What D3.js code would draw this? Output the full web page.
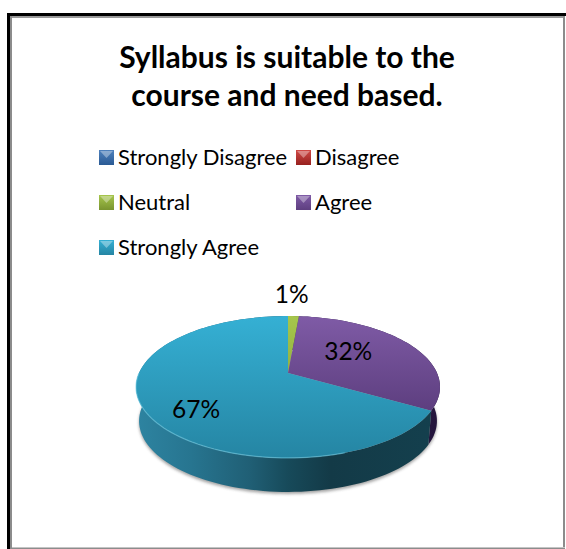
<!DOCTYPE html>
<html>
<head>
<meta charset="utf-8">
<script src="https://cdn.jsdelivr.net/npm/d3@7"></script>
<style>
  body { margin: 0; background: #fff; }
  text { font-family: Lato, "Open Sans", sans-serif; fill: #000; }
</style>
</head>
<body>
<div id="chart"></div>
<script>
const titleLines = ["Syllabus is suitable to the", "course and need based."];
const categories = ["Strongly Disagree", "Disagree", "Neutral", "Agree", "Strongly Agree"];
const values = [0, 0, 1.4, 31.9, 66.7];
const labels = ["", "", "1%", "32%", "67%"];

const width = 566, height = 549;
const apex = {x: 288, y: 373};
// projection of the pie disc, tilted away from the viewer
const tilt = {a: 149, b: 68.2, k: 0.197}, depth = 34;

const colors = {
  "Strongly Disagree": ["#4f81bd", "#2a5a94"],
  "Disagree": ["#d04a46", "#97211f"],
  "Neutral": ["#a6c64c", "#79942f"],
  "Agree": ["#7f5ba6", "#5e3f80"],
  "Strongly Agree": ["#35b0d4", "#2585a3"]
};
const sideColors = {
  "Neutral": [[0, "#6f8a2c"], [1, "#3f5018"]],
  "Agree": [[0, "#3a2460"], [1, "#24153c"]],
  "Strongly Agree": [[0.01, "#2d83a0"], [0.18, "#277590"], [0.375, "#205f75"], [0.5, "#174a5a"], [0.64, "#133a47"], [1, "#14404e"]]
};

function project(angle, r) {
  const u = Math.sin(angle) * r, v = Math.cos(angle) * r, w = 1 + tilt.k * v;
  return [apex.x + tilt.a * u / w, apex.y - tilt.b * v / w];
}
function rimPoints(a0, a1) {
  const step = Math.PI / 90;
  return d3.range(a0, a1, step).concat([a1]).map(a => project(a, 1));
}
// the lower edge of the wall sits a little narrower than the top
function lower(p, extra) {
  return [apex.x + (p[0] - apex.x) * 0.98, p[1] + depth + (extra || 0)];
}

const svg = d3.select("#chart").append("svg")
  .attr("width", width).attr("height", height)
  .style("display", "block");
const defs = svg.append("defs");

defs.append("filter").attr("id", "blur")
  .attr("x", "-10%").attr("y", "-10%").attr("width", "120%").attr("height", "120%")
  .append("feGaussianBlur").attr("stdDeviation", 1.8);

categories.forEach((c, i) => {
  const g = defs.append("linearGradient").attr("id", "top" + i)
    .attr("gradientUnits", "userSpaceOnUse")
    .attr("x1", 0).attr("x2", 0).attr("y1", 316).attr("y2", 458);
  g.append("stop").attr("offset", 0).attr("stop-color", colors[c][0]);
  g.append("stop").attr("offset", i === 3 ? 0.65 : 1).attr("stop-color", colors[c][1]);

  const sw = defs.append("linearGradient").attr("id", "sw" + i)
    .attr("x1", 0).attr("x2", 0).attr("y1", 0).attr("y2", 1);
  sw.append("stop").attr("offset", 0).attr("stop-color", colors[c][0]);
  sw.append("stop").attr("offset", 1).attr("stop-color", colors[c][1]);

  if (sideColors[c]) {
    const s = defs.append("linearGradient").attr("id", "side" + i)
      .attr("gradientUnits", "userSpaceOnUse")
      .attr("x1", 136).attr("x2", 440).attr("y1", 0).attr("y2", 0);
    sideColors[c].forEach(st => {
      s.append("stop").attr("offset", st[0]).attr("stop-color", st[1]);
    });
  }
});

// frame
svg.append("rect").attr("x", 563).attr("y", 16).attr("width", 2).attr("height", 533).attr("fill", "#8c8c8c");
svg.append("rect").attr("x", 10).attr("y", 547).attr("width", 555).attr("height", 1).attr("fill", "#c4c4c4");
svg.append("rect").attr("x", 10).attr("y", 548).attr("width", 555).attr("height", 1).attr("fill", "#8c8c8c");
svg.append("rect").attr("x", 10).attr("y", 16).attr("width", 553).attr("height", 2).attr("fill", "#9a9a9a");
svg.append("rect").attr("x", 10).attr("y", 16).attr("width", 2).attr("height", 533).attr("fill", "#8c8c8c");
svg.append("rect").attr("x", 7).attr("y", 13).attr("width", 559).attr("height", 3).attr("fill", "#000");
svg.append("rect").attr("x", 7).attr("y", 13).attr("width", 3).attr("height", 536).attr("fill", "#000");

// title
svg.append("g").selectAll("text").data(titleLines).enter().append("text")
  .attr("x", 287).attr("y", (d, i) => 68 + i * 38)
  .attr("text-anchor", "middle")
  .attr("font-size", 30).attr("font-weight", 700)
  .text(d => d);

// legend
const legendX = d3.scalePoint().domain([0, 1]).range([99, 296]);
const legendY = d3.scalePoint().domain([0, 1, 2]).range([157, 247]);
const leg = svg.append("g").selectAll("g").data(categories).enter().append("g")
  .attr("transform", (d, i) => "translate(" + legendX(i % 2) + "," + legendY(Math.floor(i / 2)) + ")");
leg.append("rect").attr("x", 0).attr("y", -7).attr("width", 15).attr("height", 15)
  .attr("fill", (d, i) => "url(#sw" + i + ")");
leg.append("path").attr("d", "M1,-6H14L7.5,1Z").attr("fill", "#fff").attr("opacity", 0.35);
leg.append("text").attr("x", 19).attr("y", 7.5).attr("font-size", 22).text(d => d);

// pie
const pie = d3.pie().sort(null).value(d => d);
const arcs = pie(values).map((d, i) => ({...d, cat: categories[i], i: i})).filter(d => d.value > 0);
const outline = d3.line();

// soft shadow under the body
svg.append("path")
  .attr("d", outline(rimPoints(0, 2 * Math.PI).map(p => lower(p, 2))) + "Z")
  .attr("fill", "#666").attr("opacity", 0.6).attr("filter", "url(#blur)");

// side walls, drawn first so the top surface covers the hidden part
svg.append("g").selectAll("path").data(arcs).enter().append("path")
  .attr("d", d => {
    const rim = rimPoints(d.startAngle, d.endAngle);
    const low = rim.map(p => lower(p)).reverse();
    return outline(rim.concat(low)) + "Z";
  })
  .attr("fill", d => "url(#side" + d.i + ")");

// top surface
svg.append("g").selectAll("path").data(arcs).enter().append("path")
  .attr("d", d => outline([[apex.x, apex.y]].concat(rimPoints(d.startAngle, d.endAngle))) + "Z")
  .attr("fill", d => "url(#top" + d.i + ")");

// bevel along the front edge
svg.append("path")
  .attr("d", outline(rimPoints(Math.PI * 0.9, Math.PI * 1.5)))
  .attr("fill", "none").attr("stroke", "#6cc9e2").attr("stroke-opacity", 0.6).attr("stroke-width", 1.2);

// data labels, pushed out along each slice
const labelRadius = {"Neutral": 1.5, "Agree": 0.55, "Strongly Agree": 0.68};
const labelNudge = {"Neutral": [-4, 0], "Agree": [-9, -5], "Strongly Agree": [2, 12]};
svg.append("g").selectAll("text").data(arcs).enter().append("text")
  .attr("transform", d => {
    const p = project((d.startAngle + d.endAngle) / 2, labelRadius[d.cat]);
    return "translate(" + (p[0] + labelNudge[d.cat][0]) + "," + (p[1] + labelNudge[d.cat][1]) + ")";
  })
  .attr("dy", "0.35em").attr("text-anchor", "middle").attr("font-size", 24.5)
  .text(d => labels[d.i]);
</script>
</body>
</html>
